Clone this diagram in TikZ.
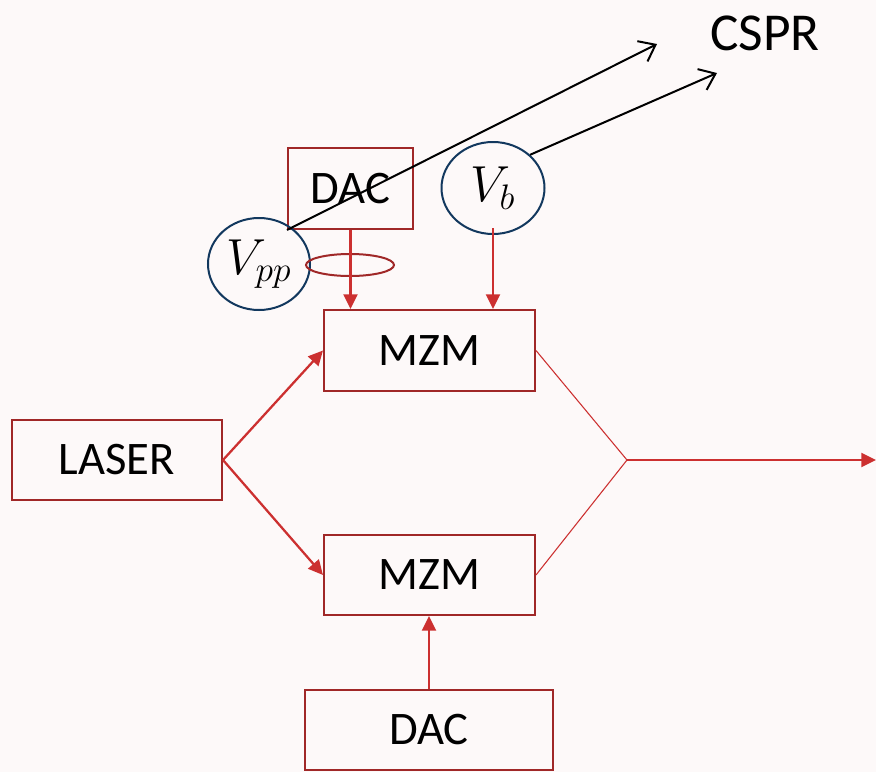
\RequirePackage{fix-cm}
\documentclass[tikz,border=0pt]{standalone}
\usepackage{fontspec}
\setmainfont{Carlito}
\usetikzlibrary{arrows.meta,shapes.geometric}
\definecolor{bg}{HTML}{FDF9F9}
\definecolor{boxred}{HTML}{A02828}
\definecolor{arrred}{HTML}{CC3030}
\definecolor{navy}{HTML}{12385E}
\begin{document}
\begin{tikzpicture}[x=0.75pt,y=-0.75pt,
  blk/.style={draw=boxred,line width=1.5pt,fill=bg,inner sep=0pt,font=\fontsize{35}{40}\selectfont},
  volt/.style={draw=navy,line width=1.5pt,ellipse,inner sep=0pt,font=\fontsize{38}{40}\selectfont},
  redarr/.style={draw=arrred,line width=1.7pt,-{Triangle[length=11pt,width=10.5pt]}},
  thinred/.style={draw=arrred,line width=0.8pt},
  blkarr/.style={draw=black,line width=1.5pt,-{Straight Barb[length=11pt,width=17pt,line width=1.5pt]}}]
\fill[bg] (0,0) rectangle (876,772);
\useasboundingbox (0,0) rectangle (876,772);
% blocks
\node[blk,minimum width=93.75pt,minimum height=60.75pt] (dac1) at (350.5,188.5) {DAC};
\node[blk,minimum width=158.25pt,minimum height=60.75pt] (mzm1) at (429.5,350.5) {MZM};
\node[blk,minimum width=158.25pt,minimum height=60pt] (mzm2) at (429.5,575) {MZM};
\node[blk,minimum width=157.5pt,minimum height=60pt] (laser) at (117,460) {LASER};
\node[blk,minimum width=186pt,minimum height=60pt] (dac2) at (429,730) {DAC};
\node[font=\fontsize{40}{44}\selectfont,anchor=center] (cspr) at (765,33) {CSPR};
% voltage ellipses
\node[volt,minimum width=76.5pt,minimum height=69pt] (vpp) at (259,264) {$V_{pp}$};
\node[volt,minimum width=77.25pt,minimum height=69pt] (vb) at (493,188) {$V_b$};
\node[draw=boxred,line width=1.5pt,ellipse,minimum width=66pt,minimum height=16.5pt,inner sep=0pt] (ring) at (350,265) {};
% coordinates
\coordinate (j) at (627,460);
\coordinate (out) at (876,460);
\coordinate (c1) at (657,44);
\coordinate (c2) at (717,73);
% red connectors
\draw[redarr] (dac1.south) -- (dac1.south |- mzm1.north);
\draw[redarr] ([yshift=5pt]vb.south) -- (vb.south |- mzm1.north);
\draw[redarr] (dac2.north) -- (dac2.north |- mzm2.south);
\draw[redarr] (laser.east) -- (mzm1.west);
\draw[redarr] (laser.east) -- (mzm2.west);
\draw[thinred] (mzm1.east) -- (j) -- (mzm2.east);
\draw[redarr] (j) -- (out);
% CSPR arrows
\draw[blkarr] (dac1.south west) -- (c1);
\draw[blkarr] (vb.north east) -- (c2);
\end{tikzpicture}
\end{document}
